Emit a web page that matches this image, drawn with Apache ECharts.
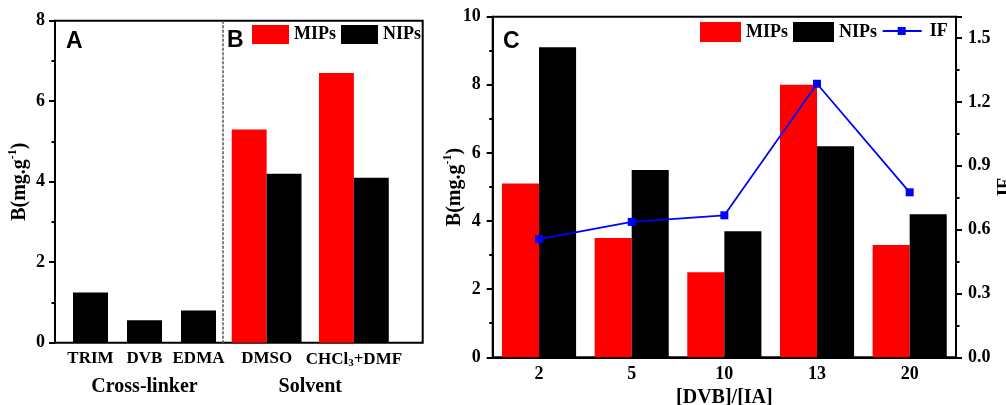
<!DOCTYPE html>
<html>
<head>
<meta charset="utf-8">
<script src="https://cdn.jsdelivr.net/npm/echarts@6/dist/echarts.min.js"></script>
<style>html,body{margin:0;padding:0;background:#fff}#c{width:1006px;height:405px}</style>
</head>
<body>
<div id="c"></div>
<script>
// ---- data ----
const crossLinkers = ['TRIM', 'DVB', 'EDMA'];
const crossLinkerB = [1.25, 0.56, 0.80];
const solvents = ['DMSO', 'CHCl3+DMF'];
const solventMIPs = [5.3, 6.7];
const solventNIPs = [4.2, 4.1];
const ratios = ['2', '5', '10', '13', '20'];
const ratioMIPs = [5.1, 3.5, 2.5, 8.0, 3.3];
const ratioNIPs = [9.1, 5.5, 3.7, 6.2, 4.2];
const ratioIF = [0.555, 0.636, 0.667, 1.285, 0.775];

const SERIF = 'Liberation Serif';
const SANS = 'Liberation Sans';
const RED = '#ff0000', BLACK = '#000000', BLUE = '#0000ff';

const chart = echarts.init(document.getElementById('c'), null, {renderer: 'canvas'});

const lbl = (size, extra) => Object.assign({fontFamily: SERIF, fontWeight: 'bold', fontSize: size, color: '#000'}, extra || {});
const yName = 'B(mg.g{s|-1})';
const yNameStyle = lbl(20, {lineHeight: 30, rich: {s: {fontFamily: SERIF, fontWeight: 'bold', fontSize: 12, lineHeight: 30, verticalAlign: 'top', padding: [2, 0, 0, 0], color: '#000'}}});
const ifIcon = 'path://M0,3 L15,3 L15,0 L23,0 L23,3 L39,3 L39,5 L23,5 L23,8 L15,8 L15,5 L0,5 Z';
const gridBase = {outerBoundsMode: 'none', containLabel: false};

const option = {
  animation: false,
  backgroundColor: '#fff',
  title: [
    {text: 'A', left: 66, top: 30, padding: 0, textStyle: {fontFamily: SANS, fontWeight: 'bold', fontSize: 23, color: '#000'}},
    {text: 'B', left: 227, top: 29, padding: 0, textStyle: {fontFamily: SANS, fontWeight: 'bold', fontSize: 23, color: '#000'}},
    {text: 'C', left: 503, top: 30, padding: 0, textStyle: {fontFamily: SANS, fontWeight: 'bold', fontSize: 23, color: '#000'}}
  ],
  legend: [
    {data: [{name: 'MIPs', icon: 'rect'}, {name: 'NIPs', icon: 'rect'}], right: 585, top: 25, padding: 0,
     itemWidth: 37, itemHeight: 19, itemGap: 5, selectedMode: false, textStyle: lbl(18)},
    {data: [{name: 'MIPs', icon: 'rect'}, {name: 'NIPs', icon: 'rect'}], right: 129, top: 22, padding: 0,
     itemWidth: 41, itemHeight: 20, itemGap: 5, selectedMode: false, textStyle: lbl(18)},
    {data: [{name: 'IF', icon: ifIcon}], left: 882.7, top: 22, padding: 0,
     itemWidth: 39, itemHeight: 8, selectedMode: false, textStyle: lbl(18, {padding: [0, 0, 0, 3]})}
  ],
  grid: [
    Object.assign({left: 55, right: 583.3, top: 20.7, bottom: 62.3, show: true, borderColor: '#000', borderWidth: 2, backgroundColor: 'transparent'}, gridBase),
    Object.assign({left: 63.5, right: 780.5, top: 20.7, bottom: 62.3}, gridBase),
    Object.assign({left: 223, right: 608.5, top: 20.7, bottom: 62.3}, gridBase),
    Object.assign({left: 492.7, right: 50, top: 16.7, bottom: 47.7, show: true, borderColor: '#000', borderWidth: 2, backgroundColor: 'transparent'}, gridBase)
  ],
  xAxis: [
    {gridIndex: 0, type: 'value', show: false, min: 0, max: 1},
    {gridIndex: 1, type: 'category', data: crossLinkers, axisLine: {show: false}, axisTick: {show: false},
     axisLabel: lbl(17, {margin: 7, interval: 0}), name: 'Cross-linker', nameLocation: 'middle', nameGap: 34, nameTextStyle: lbl(20)},
    {gridIndex: 2, type: 'category', data: solvents, axisLine: {show: false}, axisTick: {show: false},
     axisLabel: lbl(17, {margin: 7, interval: 0, formatter: v => v === 'CHCl3+DMF' ? 'CHCl{sub|3}+DMF' : v,
       rich: {sub: {fontFamily: SERIF, fontWeight: 'bold', fontSize: 11, verticalAlign: 'bottom', padding: [8, 0, 0, 0], color: '#000'}}}),
     name: 'Solvent', nameLocation: 'middle', nameGap: 34, nameTextStyle: lbl(20)},
    {gridIndex: 3, type: 'category', data: ratios, axisLine: {show: true, lineStyle: {color: '#000', width: 2}}, axisTick: {show: false},
     axisLabel: lbl(18, {margin: 8, interval: 0}), name: '[DVB]/[IA]', nameLocation: 'middle', nameGap: 30, nameTextStyle: lbl(20)}
  ],
  yAxis: [
    {gridIndex: 0, type: 'value', min: 0, max: 8, interval: 2, splitLine: {show: false},
     axisLine: {show: true, lineStyle: {color: '#000', width: 2}},
     axisTick: {show: true, inside: false, length: 6, lineStyle: {width: 2, color: '#000'}},
     minorTick: {show: true, splitNumber: 2, length: 3.5, lineStyle: {width: 2, color: '#000'}},
     axisLabel: lbl(18, {margin: 10}),
     name: yName, nameLocation: 'middle', nameGap: 20, nameMoveOverlap: false, nameTextStyle: yNameStyle},
    {gridIndex: 1, type: 'value', min: 0, max: 8, show: false},
    {gridIndex: 2, type: 'value', min: 0, max: 8, splitLine: {show: false}, axisTick: {show: false}, axisLabel: {show: false},
     axisLine: {show: true, lineStyle: {color: '#555', width: 1.5, type: [2, 2.5]}}},
    {gridIndex: 3, type: 'value', min: 0, max: 10, interval: 2, splitLine: {show: false},
     axisLine: {show: true, lineStyle: {color: '#000', width: 2}},
     axisTick: {show: true, inside: false, length: 6, lineStyle: {width: 2, color: '#000'}},
     minorTick: {show: true, splitNumber: 2, length: 3.5, lineStyle: {width: 2, color: '#000'}},
     axisLabel: lbl(18, {margin: 12}),
     name: yName, nameLocation: 'middle', nameGap: 23, nameMoveOverlap: false, nameTextStyle: yNameStyle},
    {gridIndex: 3, type: 'value', position: 'right', min: 0, max: 1.6, interval: 0.3, splitLine: {show: false},
     axisLine: {show: true, lineStyle: {color: '#000', width: 2}},
     axisTick: {show: true, inside: false, length: 6, lineStyle: {width: 2, color: '#000'}},
     minorTick: {show: true, splitNumber: 2, length: 3.5, lineStyle: {width: 2, color: '#000'}},
     axisLabel: lbl(18, {margin: 12, showMaxLabel: false, formatter: v => v.toFixed(1)}),
     name: 'IF', nameLocation: 'middle', nameGap: 40, nameTextStyle: lbl(18)}
  ],
  series: [
    {name: 'Cross-linker', type: 'bar', xAxisIndex: 1, yAxisIndex: 1, data: crossLinkerB, barWidth: 35,
     itemStyle: {color: BLACK}},
    {name: 'MIPs', type: 'bar', xAxisIndex: 2, yAxisIndex: 2, data: solventMIPs, barGap: '0%', barCategoryGap: '20%',
     itemStyle: {color: RED}},
    {name: 'NIPs', type: 'bar', xAxisIndex: 2, yAxisIndex: 2, data: solventNIPs, barGap: '0%', barCategoryGap: '20%',
     itemStyle: {color: BLACK}},
    {name: 'MIPs', type: 'bar', xAxisIndex: 3, yAxisIndex: 3, data: ratioMIPs, barGap: '0%', barCategoryGap: '20%',
     itemStyle: {color: RED}},
    {name: 'NIPs', type: 'bar', xAxisIndex: 3, yAxisIndex: 3, data: ratioNIPs, barGap: '0%', barCategoryGap: '20%',
     itemStyle: {color: BLACK}},
    {name: 'IF', type: 'line', xAxisIndex: 3, yAxisIndex: 4, data: ratioIF, z: 5,
     symbol: 'rect', symbolSize: 8, showAllSymbol: true,
     lineStyle: {color: BLUE, width: 1.8}, itemStyle: {color: BLUE}}
  ]
};
chart.setOption(option);
</script>
</body>
</html>
